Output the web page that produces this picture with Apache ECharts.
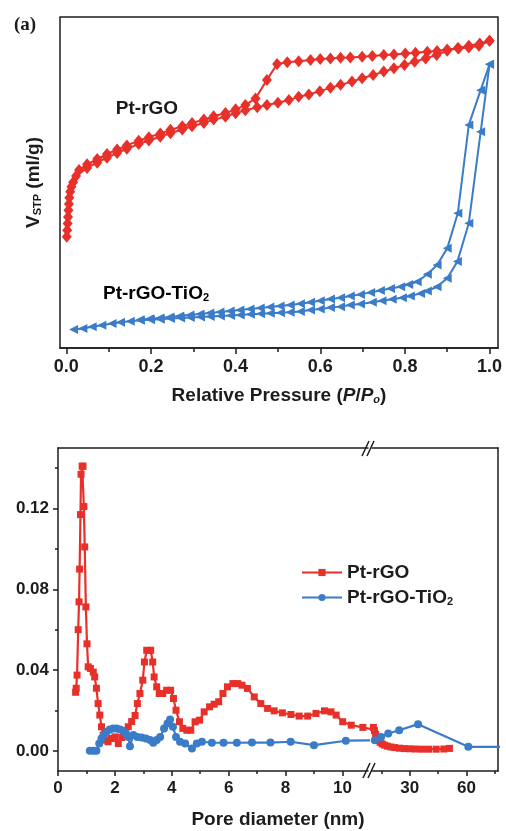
<!DOCTYPE html>
<html>
<head>
<meta charset="utf-8">
<script src="https://cdn.jsdelivr.net/npm/echarts@6/dist/echarts.min.js"></script>
<style>
html,body{margin:0;padding:0;background:#fff}
#chart{width:506px;height:831px}
</style>
</head>
<body>
<div id="chart"></div>
<script>
const FONT = 'Liberation Sans, Arial, sans-serif'
const RED = '#e8302a'
const BLUE = '#3a7cc8'
const INK = '#1c1c1c'

// (a) N2 isotherms: [P/Po, V_STP] (the V axis has no scale in the original, arbitrary units)
const rgoAds = [[0.001,33.6],[0.002,35.6],[0.003,37.6],[0.004,39.6],[0.005,41.6],[0.006,43.5],[0.007,45.4],[0.009,47.2],[0.012,48.7],[0.016,50.1],[0.023,52.0],[0.049,54.4],[0.073,56.0],[0.096,57.5],[0.120,58.9],[0.143,60.2],[0.171,61.6],[0.195,62.7],[0.222,63.8],[0.246,64.9],[0.274,66.0],[0.297,67.0],[0.325,68.0],[0.348,69.0],[0.376,69.9],[0.400,70.9],[0.423,71.8],[0.451,72.7],[0.474,73.4],[0.500,74.1],[0.526,74.9],[0.549,75.9],[0.573,76.6],[0.599,77.6],[0.624,78.6],[0.648,79.5],[0.675,80.5],[0.699,81.5],[0.725,82.5],[0.750,83.5],[0.774,84.5],[0.799,85.5],[0.823,86.5],[0.849,87.5],[0.875,88.5],[0.900,89.8],[0.925,90.6],[0.951,91.3],[0.977,92.0],[1.000,92.8]]
const rgoDes = [[1.000,92.8],[0.975,91.3],[0.951,90.8],[0.927,90.5],[0.900,90.2],[0.876,89.7],[0.853,89.5],[0.825,89.2],[0.801,89.0],[0.774,88.7],[0.750,88.5],[0.723,88.2],[0.699,88.0],[0.671,87.8],[0.648,87.7],[0.624,87.5],[0.600,87.3],[0.577,87.0],[0.549,86.6],[0.522,86.3],[0.498,85.8],[0.474,81.0],[0.447,75.4],[0.423,73.4],[0.400,72.1],[0.376,71.0],[0.348,70.0],[0.325,69.0],[0.297,68.0],[0.274,67.0],[0.246,65.9],[0.222,64.8],[0.195,63.7],[0.171,62.6],[0.143,61.2],[0.120,60.0],[0.096,58.6],[0.073,57.1],[0.049,55.5],[0.030,53.8]]
const tioAds = [[0.017,5.6],[0.039,5.9],[0.061,6.4],[0.084,6.9],[0.108,7.4],[0.128,7.8],[0.151,8.1],[0.175,8.4],[0.199,8.55],[0.222,8.7],[0.246,8.9],[0.270,9.05],[0.293,9.2],[0.317,9.4],[0.340,9.55],[0.364,9.7],[0.388,9.85],[0.411,10.0],[0.435,10.2],[0.459,10.35],[0.482,10.5],[0.506,10.65],[0.529,10.8],[0.553,11.0],[0.577,11.5],[0.600,11.8],[0.624,12.2],[0.648,12.5],[0.671,13.0],[0.695,13.3],[0.723,13.8],[0.746,14.3],[0.770,14.7],[0.794,15.2],[0.813,15.7],[0.837,16.5],[0.853,17.2],[0.876,18.5],[0.900,21.1],[0.924,26.1],[0.951,37.7],[0.979,65.3],[1.000,85.7]]
const tioDes = [[1.000,85.7],[0.979,77.9],[0.951,67.4],[0.925,40.7],[0.900,30.1],[0.876,25.1],[0.853,22.3],[0.829,20.0],[0.809,19.2],[0.790,18.5],[0.766,18.0],[0.742,17.4],[0.719,16.8],[0.695,16.2],[0.671,15.7],[0.648,15.2],[0.624,14.8],[0.600,14.3],[0.577,13.8],[0.553,13.4],[0.529,13.0],[0.505,12.7],[0.481,12.4],[0.458,12.1],[0.434,11.8],[0.410,11.5],[0.387,11.2],[0.363,10.9],[0.339,10.6],[0.316,10.3],[0.292,10.0],[0.268,9.7],[0.245,9.4],[0.221,9.1],[0.197,8.8],[0.174,8.5]]
const pressureTicks = [0, 0.2, 0.4, 0.6, 0.8, 1.0]
const pressureMinor = [0.1, 0.3, 0.5, 0.7, 0.9]

// (b) pore size distribution: [pore diameter nm, dV/dD]
const rgoPsd = [[0.62,0.029],[0.64,0.031],[0.67,0.0375],[0.71,0.060],[0.74,0.0738],[0.76,0.090],[0.79,0.117],[0.81,0.137],[0.85,0.141],[0.88,0.141],[0.91,0.121],[0.94,0.101],[0.98,0.0713],[1.02,0.053],[1.06,0.0416],[1.14,0.0408],[1.24,0.039],[1.29,0.0366],[1.35,0.031],[1.41,0.0234],[1.47,0.0177],[1.53,0.0119],[1.59,0.0078],[1.65,0.0053],[1.76,0.0045],[1.88,0.0061],[2.0,0.0069],[2.12,0.0036],[2.24,0.0066],[2.35,0.0094],[2.47,0.0119],[2.59,0.0145],[2.71,0.0175],[2.79,0.0234],[2.88,0.0284],[2.98,0.035],[3.04,0.044],[3.12,0.0498],[3.26,0.0498],[3.33,0.044],[3.38,0.0366],[3.47,0.0317],[3.56,0.0284],[3.68,0.0284],[3.82,0.030],[3.96,0.030],[4.06,0.0259],[4.15,0.0201],[4.27,0.0144],[4.39,0.0111],[4.53,0.0102],[4.67,0.0102],[4.82,0.0144],[4.98,0.0152],[5.14,0.0193],[5.33,0.0218],[5.49,0.0231],[5.65,0.0243],[5.80,0.0284],[5.96,0.0317],[6.15,0.0333],[6.32,0.0333],[6.47,0.0325],[6.66,0.0309],[6.9,0.0267],[7.13,0.0234],[7.37,0.021],[7.6,0.0198],[7.89,0.0188],[8.19,0.018],[8.48,0.0172],[8.78,0.0172],[9.07,0.0185],[9.37,0.0198],[9.6,0.0193],[9.78,0.0177],[10.01,0.0144],[10.31,0.0127],[10.72,0.0116],[11.3,0.0100],[11.9,0.0082],[12.6,0.0066],[13.4,0.0052],[14.3,0.0042],[15.4,0.0034],[16.7,0.0028],[18.2,0.0023],[20,0.0019],[22,0.0016],[24.5,0.0013],[27,0.0011],[30,0.0010],[33,0.0009],[36.5,0.0008],[40,0.0008],[44,0.0008],[48,0.0009],[51,0.0012]]
const tioPsd = [[1.12,0.0],[1.24,0.0],[1.35,0.0],[1.45,0.0036],[1.53,0.0061],[1.61,0.0078],[1.71,0.0094],[1.82,0.0106],[1.94,0.011],[2.06,0.011],[2.18,0.0106],[2.29,0.0099],[2.39,0.0086],[2.47,0.0069],[2.53,0.0023],[2.65,0.0078],[2.79,0.0069],[2.94,0.0066],[3.09,0.0061],[3.24,0.0053],[3.35,0.004],[3.47,0.0053],[3.59,0.0069],[3.73,0.011],[3.85,0.0135],[3.94,0.0155],[4.04,0.0119],[4.15,0.0069],[4.29,0.0045],[4.47,0.0036],[4.71,0.0012],[4.88,0.0036],[5.06,0.0045],[5.41,0.004],[5.82,0.004],[6.29,0.004],[6.82,0.0041],[7.47,0.0041],[8.18,0.0045],[9.0,0.0028],[10.12,0.005],[11.5,0.0052],[14.8,0.0068],[18.6,0.0086],[24.4,0.0102],[34.4,0.0132],[61,0.002],[100,0.0018]]
const poreTicksLeft = [0, 2, 4, 6, 8, 10]
const poreMinorLeft = [1, 3, 5, 7, 9]
const poreTicksRight = [30, 60]
const poreMinorRight = [15, 45, 75]
const psdTicks = [0, 0.04, 0.08, 0.12]
const psdMinor = [0.02, 0.06, 0.10, 0.14]

const lineAx = {show: true, onZero: false, lineStyle: {color: INK, width: 1.5}}
const noLine = {show: false, onZero: false}
const bold = size => ({fontFamily: FONT, fontWeight: 'bold', fontSize: size, color: INK})
const sub = size => ({fontFamily: FONT, fontWeight: 'bold', fontSize: size, color: INK, verticalAlign: 'bottom'})

// one axis carries the labelled ticks, a twin carries the short minor ticks
function tickAxis(grid, pos, min, max, ticks, fmt, size, extra) {
  return Object.assign({
    type: 'value', gridIndex: grid, position: pos, min, max,
    axisLine: lineAx,
    axisTick: {show: true, inside: false, length: 5, customValues: ticks, lineStyle: {color: INK, width: 1.5}},
    axisLabel: {show: true, customValues: ticks, formatter: fmt, margin: 9, ...bold(size)},
    splitLine: {show: false}
  }, extra || {})
}
function minorAxis(grid, pos, min, max, ticks, len) {
  return {
    type: 'value', gridIndex: grid, position: pos, min, max,
    axisLine: noLine,
    axisTick: {show: true, inside: false, length: len, customValues: ticks, lineStyle: {color: INK, width: 1.5}},
    axisLabel: {show: false}, splitLine: {show: false}
  }
}

const chart = echarts.init(document.getElementById('chart'), null, {renderer: 'canvas'})
chart.setOption({
  animation: false,
  backgroundColor: '#fff',
  grid: [
    {left: 60, top: 17, width: 438, height: 331, show: true, borderColor: INK, borderWidth: 1.5, containLabel: false, outerBoundsMode: 'none'},
    {left: 58, top: 448, width: 310, height: 323, containLabel: false, outerBoundsMode: 'none'},
    {left: 372, top: 448, width: 126, height: 323, containLabel: false, outerBoundsMode: 'none'}
  ],
  xAxis: [
    tickAxis(0, 'bottom', -0.015, 1.02, pressureTicks, v => v.toFixed(1), 18, {
      axisTick: {show: true, length: 6, customValues: pressureTicks, lineStyle: {color: INK, width: 1.5}},
      axisLabel: {show: true, customValues: pressureTicks, formatter: v => v.toFixed(1), margin: 10, ...bold(18)},
      name: '{b|Relative Pressure (}{i|P}{b|/}{i|P}{si|o}{b|)}',
      nameLocation: 'middle', nameGap: 38,
      nameTextStyle: {rich: {b: bold(19), i: {...bold(19), fontStyle: 'italic'}, si: {...sub(11), fontStyle: 'italic'}}}
    }),
    minorAxis(0, 'bottom', -0.015, 1.02, pressureMinor, 4),
    tickAxis(1, 'bottom', 0, 10.9, poreTicksLeft, v => String(v), 17),
    minorAxis(1, 'bottom', 0, 10.9, poreMinorLeft, 3),
    {type: 'value', gridIndex: 1, position: 'top', min: 0, max: 10.9, axisLine: lineAx, axisTick: {show: false}, axisLabel: {show: false}, splitLine: {show: false}},
    tickAxis(2, 'bottom', 10, 76.7, poreTicksRight, v => String(v), 17),
    minorAxis(2, 'bottom', 10, 76.7, poreMinorRight, 3),
    {type: 'value', gridIndex: 2, position: 'top', min: 10, max: 76.7, axisLine: lineAx, axisTick: {show: false}, axisLabel: {show: false}, splitLine: {show: false}}
  ],
  yAxis: [
    {type: 'value', gridIndex: 0, min: 0, max: 100, axisLine: noLine, axisTick: {show: false}, axisLabel: {show: false}, splitLine: {show: false},
      name: '{b|V}{s|STP}{b| (ml/g)}', nameLocation: 'middle', nameRotate: 90, nameGap: 17,
      nameTextStyle: {rich: {b: bold(19), s: sub(11)}}},
    tickAxis(1, 'left', -0.01, 0.15, psdTicks, v => v.toFixed(2), 17),
    minorAxis(1, 'left', -0.01, 0.15, psdMinor, 3),
    {type: 'value', gridIndex: 2, position: 'right', min: -0.01, max: 0.15, axisLine: lineAx, axisTick: {show: false}, axisLabel: {show: false}, splitLine: {show: false}}
  ],
  legend: {
    data: ['Pt-rGO', 'Pt-rGO-TiO2'],
    orient: 'vertical', left: 301, top: 563, padding: 0,
    itemWidth: 40, itemHeight: 9, itemGap: 6,
    formatter: n => n === 'Pt-rGO-TiO2' ? '{b|Pt-rGO-TiO}{s|2}' : '{b|' + n + '}',
    textStyle: {rich: {b: bold(19), s: sub(11)}}
  },
  series: [
    {name: 'Pt-rGO', type: 'line', xAxisIndex: 2, yAxisIndex: 1, data: rgoPsd.filter(p => p[0] < 12),
      symbol: 'rect', symbolSize: 7, lineStyle: {color: RED, width: 2.2}, itemStyle: {color: RED}},
    {name: 'Pt-rGO', type: 'line', xAxisIndex: 5, yAxisIndex: 3, data: rgoPsd.filter(p => p[0] > 10.5),
      symbol: 'rect', symbolSize: 7, lineStyle: {color: RED, width: 2.2}, itemStyle: {color: RED}},
    {name: 'Pt-rGO-TiO2', type: 'line', xAxisIndex: 2, yAxisIndex: 1, data: tioPsd.filter(p => p[0] < 12),
      symbol: 'circle', symbolSize: 8, lineStyle: {color: BLUE, width: 2.2}, itemStyle: {color: BLUE}},
    {name: 'Pt-rGO-TiO2', type: 'line', xAxisIndex: 5, yAxisIndex: 3, data: tioPsd.filter(p => p[0] > 11),
      symbol: 'circle', symbolSize: 8, lineStyle: {color: BLUE, width: 2.2}, itemStyle: {color: BLUE}},
    {name: 'rGO adsorption', type: 'line', xAxisIndex: 0, yAxisIndex: 0, data: rgoAds,
      symbol: 'diamond', symbolSize: [10, 12], lineStyle: {color: RED, width: 2}, itemStyle: {color: RED}},
    {name: 'rGO desorption', type: 'line', xAxisIndex: 0, yAxisIndex: 0, data: rgoDes,
      symbol: 'diamond', symbolSize: [10, 12], lineStyle: {color: RED, width: 2}, itemStyle: {color: RED}},
    {name: 'TiO2 adsorption', type: 'line', xAxisIndex: 0, yAxisIndex: 0, data: tioAds,
      symbol: 'triangle', symbolRotate: 90, symbolSize: 9, lineStyle: {color: BLUE, width: 2}, itemStyle: {color: BLUE}},
    {name: 'TiO2 desorption', type: 'line', xAxisIndex: 0, yAxisIndex: 0, data: tioDes,
      symbol: 'triangle', symbolRotate: 90, symbolSize: 9, lineStyle: {color: BLUE, width: 2}, itemStyle: {color: BLUE}}
  ],
  graphic: [
    {type: 'text', left: 14, top: 16, style: {text: '(a)', fontFamily: 'Liberation Serif, Times New Roman, serif', fontWeight: 'bold', fontSize: 19, fill: INK}},
    {type: 'text', x: 147, y: 109, style: {text: 'Pt-rGO', align: 'center', verticalAlign: 'middle', font: 'bold 19px ' + FONT, fill: INK}},
    {type: 'text', x: 156, y: 294, style: {text: '{b|Pt-rGO-TiO}{s|2}', rich: {b: bold(19), s: sub(11)}, align: 'center', verticalAlign: 'middle'}},
    {type: 'text', x: 278, y: 820, style: {text: 'Pore diameter (nm)', align: 'center', verticalAlign: 'middle', font: 'bold 19px ' + FONT, fill: INK}},
    // axis break marks
    {type: 'line', shape: {x1: 362, y1: 456, x2: 369, y2: 441}, style: {stroke: INK, lineWidth: 1.5}},
    {type: 'line', shape: {x1: 367, y1: 456, x2: 374, y2: 441}, style: {stroke: INK, lineWidth: 1.5}},
    {type: 'line', shape: {x1: 363, y1: 778, x2: 370, y2: 763}, style: {stroke: INK, lineWidth: 1.5}},
    {type: 'line', shape: {x1: 368, y1: 778, x2: 375, y2: 763}, style: {stroke: INK, lineWidth: 1.5}}
  ]
})
</script>
</body>
</html>
